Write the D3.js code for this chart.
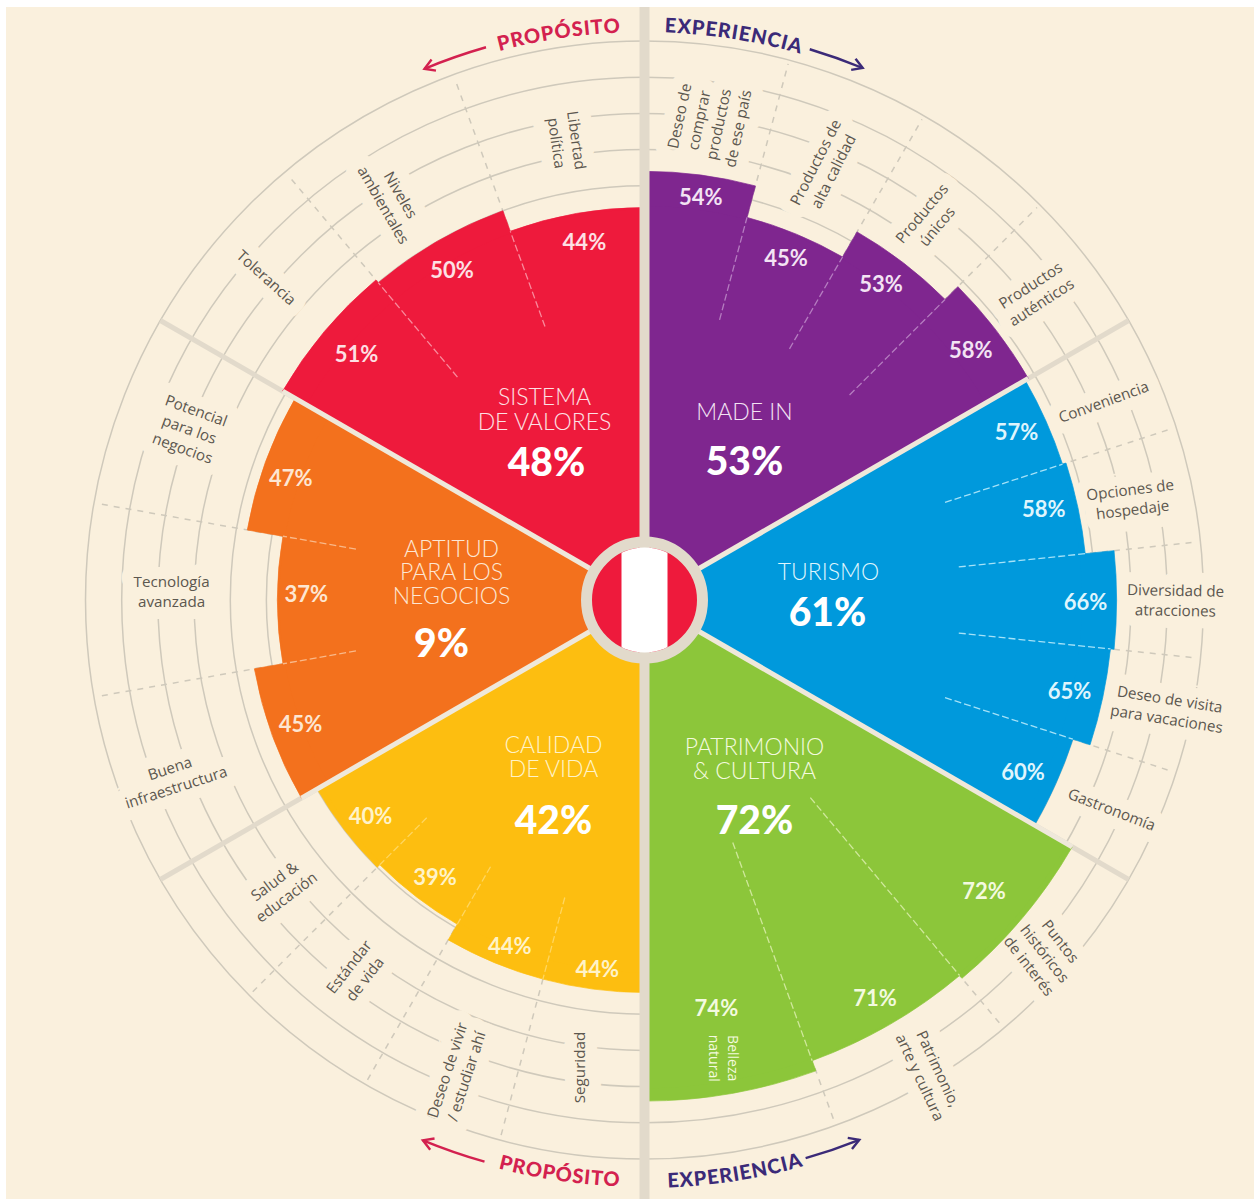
<!DOCTYPE html>
<html>
<head>
<meta charset="utf-8">
<script src="https://cdn.jsdelivr.net/npm/d3@7"></script>
<style>
  html, body { margin: 0; padding: 0; background: #fff; }
  svg { display: block; }
</style>
</head>
<body>
<div id="chart"></div>
<script>
// --------------------------------------
//  Data
// --------------------------------------

const sectorTotals = [53, 61, 72, 42, 9, 48];

const madeInValues = [54, 45, 53, 58];
const turismoValues = [57, 58, 66, 65, 60];
const patrimonioValues = [72, 71, 74];
const calidadValues = [44, 44, 39, 40];
const aptitudValues = [45, 37, 47];
const sistemaValues = [51, 50, 44];

const madeInLabels = ["Deseo de|comprar|productos|de ese país", "Productos de|alta calidad", "Productos|únicos", "Productos|auténticos"];
const turismoLabels = ["Conveniencia", "Opciones de|hospedaje", "Diversidad de|atracciones", "Deseo de visita|para vacaciones", "Gastronomía"];
const patrimonioLabels = ["Puntos|históricos|de interés", "Patrimonio,|arte y cultura", "Belleza|natural"];
const calidadLabels = ["Seguridad", "Deseo de vivir|/ estudiar ahí", "Estándar|de vida", "Salud &|educación"];
const aptitudLabels = ["Buena|infraestructura", "Tecnología|avanzada", "Potencial|para los|negocios"];
const sistemaLabels = ["Tolerancia", "Niveles|ambientales", "Libertad|política"];

const headLines = [["MADE IN"], ["TURISMO"], ["PATRIMONIO", "& CULTURA"], ["CALIDAD", "DE VIDA"], ["APTITUD", "PARA LOS", "NEGOCIOS"], ["SISTEMA", "DE VALORES"]];

const gridTicks = [40, 50, 60, 70, 80, 90];

// --------------------------------------
//  Canvas and scales
// --------------------------------------

const width = 1254;
const height = 1199;
const cx = 644.5;
const cy = 600;
const bg = "#faf0dd";
const spokeColor = "#e2dacb";
const gridColor = "#cfc9bb";

const svg = d3.select("#chart")
  .append("svg")
    .attr("width", width)
    .attr("height", height)
    .attr("viewBox", `0, 0, ${width}, ${height}`);

svg.append("rect")
    .attr("x", 6).attr("y", 7)
    .attr("width", width - 6).attr("height", height - 7)
    .attr("fill", bg);

const chart = svg.append("g")
    .attr("transform", `translate(${cx}, ${cy})`);

const r = d3.scaleLinear().domain([40, 90]).range([378, 559]);
const deg = d => d * Math.PI / 180;
const polar = (angle, radius) => d3.pointRadial(deg(angle), radius);

const sectors = [
  {values: madeInValues, labels: madeInLabels, color: "#7f268f", tint: "#f3e3f4", dash: "#b57cc0", inner: 290,
   pctInset: [21, 26, 30, 32], pctNudge: [[3, 1], [0, 0], [-4, -3], [0, 0]],
   place: [[7.7, 482, -78], [22.6, 469, -63], [36.9, 475, -50], [52, 497, -33]],
   head: [[100, -188]], total: [100, -139]},
  {values: turismoValues, labels: turismoLabels, color: "#0099dc", tint: "#dff5fd", dash: "#a5e2f8", inner: 316,
   pctInset: [30, 34, 31, 35, 35], pctNudge: [[-2, -1], [-1, -6], [0, 2], [1, 1], [-1, 3]],
   place: [[66.7, 500, -20], [78.4, 497, -7], [90.1, 531, 1], [101.8, 535, 9], [114.2, 512, 21]],
   head: [[184, -28]], total: [183, 12]},
  {values: patrimonioValues, labels: patrimonioLabels, color: "#8cc63a", tint: "#f3fadf", dash: "#cfe89b", inner: 258,
   pctInset: [48, 31, 87], pctNudge: [[-2, 4], [1, 0], [0, 0]],
   place: [[131.5, 534, 52], [149, 552, 65], [170.2, 465, 90]],
   head: [[110, 147], [110, 171]], total: [110, 220]},
  {values: calidadValues, labels: calidadLabels, color: "#fdbe10", tint: "#fff3c8", dash: "#ffd65f", inner: 308,
   pctInset: [22, 22, 27, 29], pctNudge: [[1, 2], [7, 4], [2, 1], [3, 4]],
   place: [[187.9, 472, -90], [201.6, 509, -72], [217.6, 471, -52], [231.5, 465, -37]],
   head: [[-91, 145], [-91, 169]], total: [-91, 220]},
  {values: aptitudValues, labels: aptitudLabels, color: "#f3711d", tint: "#fde6d2", dash: "#f9b98a", inner: 293,
   pctInset: [30, 28, 27], pctNudge: [[0, -1], [1, -6], [0, 7]],
   place: [[249.3, 504, -18], [271, 473, 0], [290.5, 486, 20]],
   head: [[-193, -51], [-193, -28], [-193, -4]], total: [-203, 43]},
  {values: sistemaValues, labels: sistemaLabels, color: "#ee1a3c", tint: "#fde0e4", dash: "#f98a9c", inner: 291,
   pctInset: [38, 31, 29], pctNudge: [[3, -2], [-1, 2], [3, 0]],
   place: [[310.4, 497, 42], [327.7, 473, 60], [350.3, 465, 82]],
   head: [[-100, -203], [-100, -178]], total: [-98, -138]}
];

// start / end angle of every bar inside its 60 degree wedge
sectors.forEach((s, i) => {
  s.angle = d3.scaleLinear().domain([0, s.values.length]).range([i * 60, i * 60 + 60]);
  s.totalValue = sectorTotals[i];
  s.lines = headLines[i];
});

// --------------------------------------
//  Grid rings
// --------------------------------------

const ringArc = d3.arc().startAngle(0).endAngle(2 * Math.PI);

chart.append("g")
  .selectAll("path")
  .data(gridTicks)
  .join("path")
    .attr("d", d => ringArc({innerRadius: r(d), outerRadius: r(d)}))
    .attr("fill", "none")
    .attr("stroke", gridColor)
    .attr("stroke-width", 1.5);

// --------------------------------------
//  Factor labels (background halo cuts the rings)
// --------------------------------------

const labelFont = "'Open Sans', sans-serif";

function drawLabels(layer, halo) {
  sectors.forEach(s => {
    s.labels.forEach((label, i) => {
      const [angle, radius, rot] = s.place[i];
      const [x, y] = polar(angle, radius);
      const lines = label.split("|");
      const inBar = s.values[i] >= 74;
      if (halo && inBar) return;
      const t = layer.append("text")
          .attr("transform", `translate(${x}, ${y}) rotate(${rot})`)
          .attr("text-anchor", "middle")
          .attr("font-family", labelFont)
          .attr("font-size", inBar ? 14 : 15.2)
          .attr("fill", inBar ? s.tint : "#5c574f");
      if (halo) {
        t.attr("stroke", bg).attr("stroke-width", 24).attr("stroke-linejoin", "round").attr("fill", bg);
      }
      const lh = inBar ? 19 : 20;
      lines.forEach((line, k) => {
        t.append("tspan")
            .attr("x", 0)
            .attr("y", (k - (lines.length - 1) / 2) * lh + 5)
            .text(line);
      });
    });
  });
}

drawLabels(chart.append("g"), true);

// --------------------------------------
//  Dashed dividers outside the bars
// --------------------------------------

const divider = (angle, r0, r1) => d3.line()([polar(angle, r0), polar(angle, r1)]);

sectors.forEach(s => {
  d3.range(1, s.values.length).forEach(k => {
    chart.append("path")
        .attr("d", divider(s.angle(k), s.inner, 555))
        .attr("stroke", gridColor)
        .attr("stroke-width", 1.5)
        .attr("stroke-dasharray", "6 6");
  });
});

// --------------------------------------
//  Spokes
// --------------------------------------

[60, 120, 240, 300].forEach(a => {
  chart.append("path")
      .attr("d", divider(a, 60, 559))
      .attr("stroke", spokeColor)
      .attr("stroke-width", 5);
});

// --------------------------------------
//  Bars
// --------------------------------------

const barArc = d3.arc().innerRadius(0);

sectors.forEach(s => {
  chart.append("g")
    .selectAll("path")
    .data(s.values)
    .join("path")
      .attr("d", (d, i) => barArc({outerRadius: r(d), startAngle: deg(s.angle(i)), endAngle: deg(s.angle(i + 1))}))
      .attr("fill", s.color)
      .attr("stroke", s.color)
      .attr("stroke-width", 0.7);

  // one solid wedge over the middle hides the seams between neighbouring bars
  chart.append("path")
      .attr("d", barArc({outerRadius: r(d3.min(s.values)) - 2, startAngle: deg(s.angle(0)), endAngle: deg(s.angle(s.values.length))}))
      .attr("fill", s.color);

  // light dashes running into the wedge
  d3.range(1, s.values.length).forEach(k => {
    const top = r(Math.min(s.values[k - 1], s.values[k]));
    chart.append("path")
        .attr("d", divider(s.angle(k), s.inner, top))
        .attr("stroke", s.dash)
        .attr("stroke-width", 1.3)
        .attr("stroke-dasharray", "7 3");
  });
});

// spokes again across the coloured part, the vertical band runs over the whole page
[60, 120, 240, 300].forEach(a => {
  const k = a / 60;
  const edge = Math.max(sectors[k - 1].values[sectors[k - 1].values.length - 1], sectors[k].values[0]);
  chart.append("path")
      .attr("d", divider(a, 60, r(edge)))
      .attr("stroke", "#efe8da")
      .attr("stroke-width", 5);
});

svg.append("line")
    .attr("x1", cx).attr("x2", cx)
    .attr("y1", 7).attr("y2", height)
    .attr("stroke", spokeColor)
    .attr("stroke-width", 10);

drawLabels(chart.append("g"), false);

// --------------------------------------
//  Percent labels
// --------------------------------------

sectors.forEach(s => {
  s.values.forEach((v, i) => {
    const [x, y] = polar(s.angle(i + 0.5), r(v) - s.pctInset[i]);
    chart.append("text")
        .attr("x", x + s.pctNudge[i][0])
        .attr("y", y + s.pctNudge[i][1] + 8)
        .attr("text-anchor", "middle")
        .attr("font-family", "Lato, sans-serif")
        .attr("font-weight", 700)
        .attr("font-size", 22)
        .attr("fill", s.tint)
        .text(`${v}%`);
  });
});

// --------------------------------------
//  Sector titles and totals
// --------------------------------------

sectors.forEach(s => {
  s.lines.forEach((line, i) => {
    const [x, y] = s.head[i];
    chart.append("text")
        .attr("x", x)
        .attr("y", y + 8)
        .attr("text-anchor", "middle")
        .attr("font-family", "Lato, sans-serif")
        .attr("font-weight", 300)
        .attr("font-size", 23)
        .attr("fill", s.tint)
        .text(line);
  });
  chart.append("text")
      .attr("x", s.total[0])
      .attr("y", s.total[1] + 14)
      .attr("text-anchor", "middle")
      .attr("font-family", "Lato, sans-serif")
      .attr("font-weight", 900)
      .attr("font-size", 39)
      .attr("fill", "#fff")
      .text(`${s.totalValue}%`);
});

// --------------------------------------
//  Flag
// --------------------------------------

svg.append("clipPath")
    .attr("id", "flag-clip")
  .append("circle")
    .attr("cx", cx).attr("cy", cy).attr("r", 52.5);

chart.append("circle")
    .attr("r", 58)
    .attr("fill", "#ee1a3c")
    .attr("stroke", spokeColor)
    .attr("stroke-width", 11);

svg.append("rect")
    .attr("x", cx - 23).attr("y", cy - 60)
    .attr("width", 46).attr("height", 120)
    .attr("fill", "#fff")
    .attr("clip-path", "url(#flag-clip)");

// --------------------------------------
//  Curved headings and arrows
// --------------------------------------

const propColor = "#d3214f";
const expColor = "#3b2a78";

// [word, colour, centre angle, baseline radius, half span, side]
const headings = [
  ["PROPÓSITO", propColor, -8.6, 568, 14, "top"],
  ["EXPERIENCIA", expColor, 9, 568, 14, "top"],
  ["PROPÓSITO", propColor, 188.4, 587, 14, "bottom"],
  ["EXPERIENCIA", expColor, 171, 588, 14, "bottom"]
];

headings.forEach(([word, color, mid, radius, span, side], i) => {
  const from = polar(side === "top" ? mid - span : mid + span, radius);
  const to = polar(side === "top" ? mid + span : mid - span, radius);
  const sweep = side === "top" ? 1 : 0;
  const id = `heading-${i}`;
  chart.append("path")
      .attr("id", id)
      .attr("fill", "none")
      .attr("d", `M${from[0]},${from[1]}A${radius},${radius} 0 0 ${sweep} ${to[0]},${to[1]}`);
  chart.append("text")
      .attr("font-family", "Lato, sans-serif")
      .attr("font-weight", 900)
      .attr("font-size", 20)
      .attr("letter-spacing", 0.9)
      .attr("fill", color)
      .attr("text-anchor", "middle")
    .append("textPath")
      .attr("href", `#${id}`)
      .attr("startOffset", "50%")
      .text(word);
});

// [colour, start angle, tip angle, radius]
const arrows = [
  [propColor, -16, -22.5, 575],
  [expColor, 16.7, 22.3, 575],
  [propColor, 195.9, 202.3, 584],
  [expColor, 163.9, 158.3, 581]
];

arrows.forEach(([color, a0, a1, radius]) => {
  const p = d3.path();
  const cw = a1 > a0;
  p.arc(0, 0, radius, deg(a0 - 90), deg(a1 - 90), !cw);
  const dir = cw ? 1 : -1;
  const tip = polar(a1, radius);
  const b1 = polar(a1 - dir * 1, radius + 6);
  const b2 = polar(a1 - dir * 1, radius - 6);
  chart.append("path")
      .attr("d", p.toString())
      .attr("fill", "none")
      .attr("stroke", color)
      .attr("stroke-width", 2.4);
  chart.append("path")
      .attr("d", d3.line()([b1, tip, b2]))
      .attr("fill", "none")
      .attr("stroke", color)
      .attr("stroke-width", 2.4);
});
</script>
</body>
</html>
